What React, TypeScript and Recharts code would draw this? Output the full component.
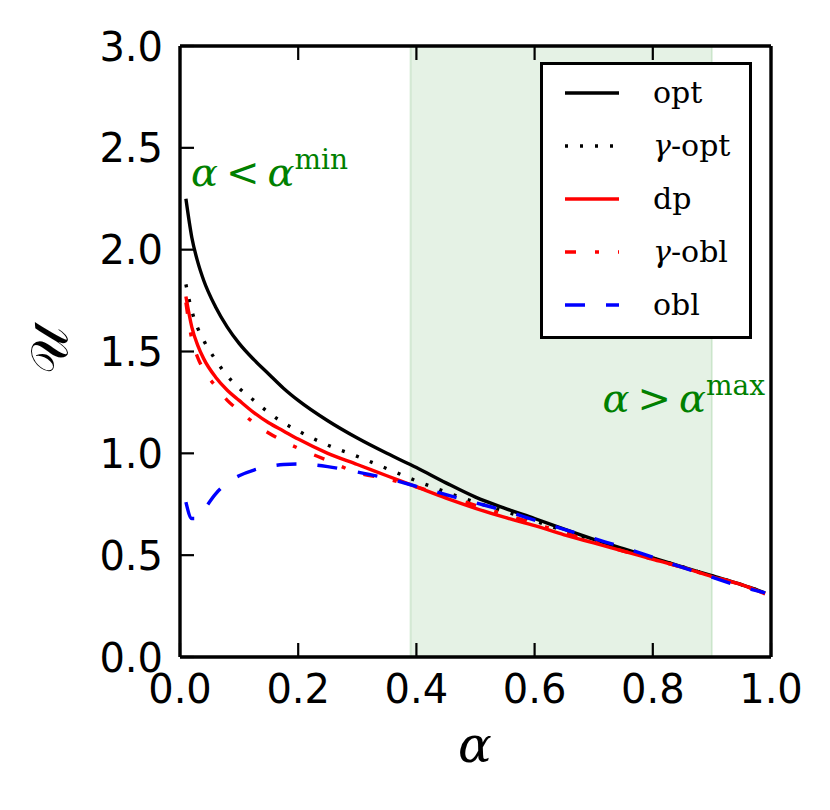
import React from 'react'
import { LineChart, Line, XAxis, YAxis, ReferenceArea, Legend } from 'recharts'

const alpha = [0.01, 0.02, 0.03, 0.04, 0.06, 0.08, 0.1, 0.125, 0.15, 0.175, 0.2, 0.25, 0.3, 0.35, 0.4, 0.45, 0.5, 0.55, 0.6, 0.65, 0.7, 0.75, 0.8, 0.85, 0.9, 0.95, 0.99]
const opt = [2.25, 2.06, 1.94, 1.85, 1.72, 1.62, 1.54, 1.46, 1.39, 1.32, 1.26, 1.16, 1.075, 1.0, 0.93, 0.855, 0.785, 0.73, 0.68, 0.628, 0.578, 0.532, 0.487, 0.443, 0.399, 0.355, 0.315]
const gammaOpt = [1.83, 1.7, 1.615, 1.555, 1.46, 1.38, 1.32, 1.26, 1.2, 1.15, 1.11, 1.04, 0.985, 0.925, 0.865, 0.81, 0.76, 0.715, 0.668, 0.62, 0.573, 0.528, 0.485, 0.443, 0.398, 0.355, 0.315]
const dp = [1.77, 1.62, 1.53, 1.465, 1.375, 1.31, 1.26, 1.2, 1.15, 1.11, 1.07, 1.0, 0.945, 0.89, 0.835, 0.78, 0.73, 0.685, 0.645, 0.6, 0.56, 0.52, 0.48, 0.44, 0.395, 0.355, 0.31]
const gammaObl = [1.74, 1.56, 1.47, 1.41, 1.33, 1.26, 1.21, 1.15, 1.1, 1.06, 1.025, 0.965, 0.905, 0.875, 0.835, 0.79, 0.745, 0.7, 0.655, 0.61, 0.565, 0.52, 0.48, 0.44, 0.395, 0.355, 0.31]
const obl = [0.76, 0.68, 0.68, 0.72, 0.8, 0.855, 0.89, 0.918, 0.935, 0.945, 0.948, 0.935, 0.908, 0.877, 0.838, 0.797, 0.757, 0.718, 0.672, 0.627, 0.582, 0.538, 0.49, 0.44, 0.392, 0.345, 0.315]

const xTicks = [0, 0.2, 0.4, 0.6, 0.8, 1.0]
const yTicks = [0, 0.5, 1.0, 1.5, 2.0, 2.5, 3.0]
const shadeFrom = 0.39
const shadeTo = 0.9

const series = [
  { key: 'opt', prefix: '', name: 'opt', color: '#000000', dash: undefined },
  { key: 'gammaOpt', prefix: 'γ', name: '-opt', color: '#000000', dash: '3 12' },
  { key: 'dp', prefix: '', name: 'dp', color: '#ff0000', dash: undefined },
  { key: 'gammaObl', prefix: 'γ', name: '-obl', color: '#ff0000', dash: '11 19 4 19' },
  { key: 'obl', prefix: '', name: 'obl', color: '#0000ff', dash: '20 21' },
]

const data = alpha.map((a, i) => ({
  alpha: a,
  opt: opt[i],
  gammaOpt: gammaOpt[i],
  dp: dp[i],
  gammaObl: gammaObl[i],
  obl: obl[i],
}))

const TICK_LEN = 14
const TICK_FONT = '"DejaVu Sans", sans-serif'
const MATH_FONT = '"DejaVu Serif", serif'
const GREEN = '#008000'
const LINE_W = 3.4
const FRAME_W = 3.4

const LeftTick = (p: any) => (
  <g>
    <line x1={p.x} y1={p.y} x2={p.x + TICK_LEN} y2={p.y} stroke="#000" strokeWidth={2.2} />
    <text x={p.x - 17} y={p.y + 14.5} textAnchor="end" fontSize={40} fontFamily={TICK_FONT} fill="#000">
      {p.payload.value.toFixed(1)}
    </text>
  </g>
)
const BottomTick = (p: any) => (
  <g>
    <line x1={p.x} y1={p.y} x2={p.x} y2={p.y - TICK_LEN} stroke="#000" strokeWidth={2.2} />
    <text x={p.x} y={p.y + 46} textAnchor="middle" fontSize={40} fontFamily={TICK_FONT} fill="#000">
      {p.payload.value.toFixed(1)}
    </text>
  </g>
)
const TopTick = (p: any) => (
  <line x1={p.x} y1={p.y} x2={p.x} y2={p.y + TICK_LEN} stroke="#000" strokeWidth={2.2} />
)
const RightTick = (p: any) => (
  <line x1={p.x} y1={p.y} x2={p.x - TICK_LEN} y2={p.y} stroke="#000" strokeWidth={2.2} />
)

const LegendBox = () => (
  <div
    style={{
      width: 206,
      height: 271,
      border: '3px solid #000',
      background: '#fff',
      boxSizing: 'content-box',
    }}
  >
    {series.map((s, i) => (
      <div key={s.key} style={{ position: 'absolute', left: 3, top: 3 + 13 + i * 53, height: 30, display: 'flex', alignItems: 'center' }}>
        <svg width={80} height={30} style={{ display: 'block' }}>
          <line x1={22} y1={15} x2={76} y2={15} stroke={s.color} strokeWidth={LINE_W} strokeDasharray={s.dash} />
        </svg>
        <span style={{ marginLeft: 30, fontFamily: MATH_FONT, fontSize: 30, lineHeight: '30px', color: '#000' }}>
          {s.prefix && <i>{s.prefix}</i>}
          {s.name}
        </span>
      </div>
    ))}
  </div>
)

export default function App() {
  return (
    <div style={{ position: 'absolute', left: 0, top: 0, width: 830, height: 810, background: '#fff' }}>
      <LineChart width={830} height={810} data={data} margin={{ top: 45, right: 58, bottom: 93, left: 100 }}>
        <ReferenceArea
          x1={shadeFrom}
          x2={shadeTo}
          y1={0}
          y2={3}
          fill={GREEN}
          fillOpacity={0.1}
          stroke={GREEN}
          strokeOpacity={0.12}
          strokeWidth={2}
        />
        <XAxis
          dataKey="alpha"
          type="number"
          domain={[0, 1]}
          ticks={xTicks}
          height={60}
          tickSize={0}
          tickMargin={0}
          tickLine={false}
          axisLine={{ stroke: '#000', strokeWidth: FRAME_W }}
          tick={<BottomTick />}
          interval={0}
        />
        <XAxis
          xAxisId="top"
          orientation="top"
          dataKey="alpha"
          type="number"
          domain={[0, 1]}
          ticks={xTicks}
          height={1}
          tickSize={0}
          tickMargin={0}
          tickLine={false}
          axisLine={{ stroke: '#000', strokeWidth: FRAME_W }}
          tick={<TopTick />}
          interval={0}
        />
        <YAxis
          type="number"
          domain={[0, 3]}
          ticks={yTicks}
          width={80}
          tickSize={0}
          tickMargin={0}
          tickLine={false}
          axisLine={{ stroke: '#000', strokeWidth: FRAME_W }}
          tick={<LeftTick />}
          interval={0}
        />
        <YAxis
          yAxisId="right"
          orientation="right"
          type="number"
          domain={[0, 3]}
          ticks={yTicks}
          width={1}
          tickSize={0}
          tickMargin={0}
          tickLine={false}
          axisLine={{ stroke: '#000', strokeWidth: FRAME_W }}
          tick={<RightTick />}
          interval={0}
        />
        {series.map(s => (
          <Line
            key={s.key}
            dataKey={s.key}
            name={s.prefix + s.name}
            type="monotone"
            stroke={s.color}
            strokeWidth={LINE_W}
            strokeDasharray={s.dash}
            dot={false}
            activeDot={false}
            isAnimationActive={false}
          />
        ))}
        <Legend
          layout="horizontal"
          verticalAlign="middle"
          align="center"
          content={<LegendBox />}
          wrapperStyle={{ left: 540, top: 62, width: 212, height: 277 }}
        />
      </LineChart>
      <svg width={830} height={810} style={{ position: 'absolute', left: 0, top: 0, pointerEvents: 'none' }}>
        <text x={191} y={186} fontFamily={MATH_FONT} fontSize={40} fill={GREEN}>
          <tspan fontStyle="italic">α</tspan>
          <tspan dx={8}>&lt;</tspan>
          <tspan dx={8} fontStyle="italic">α</tspan>
          <tspan fontSize={28} dy={-17}>min</tspan>
        </text>
        <text x={765} y={412} textAnchor="end" fontFamily={MATH_FONT} fontSize={40} fill={GREEN}>
          <tspan fontStyle="italic">α</tspan>
          <tspan dx={8}>&gt;</tspan>
          <tspan dx={8} fontStyle="italic">α</tspan>
          <tspan fontSize={28} dy={-17}>max</tspan>
        </text>
        <text x={475} y={762} textAnchor="middle" fontFamily={MATH_FONT} fontStyle="italic" fontSize={50} fill="#000">
          α
        </text>
        <text
          x={49}
          y={350}
          transform="rotate(-90 49 350)"
          textAnchor="middle"
          dominantBaseline="central"
          fontFamily={MATH_FONT}
          fontSize={52}
          fill="#000"
        >
          𝒰
        </text>
      </svg>
    </div>
  )
}
